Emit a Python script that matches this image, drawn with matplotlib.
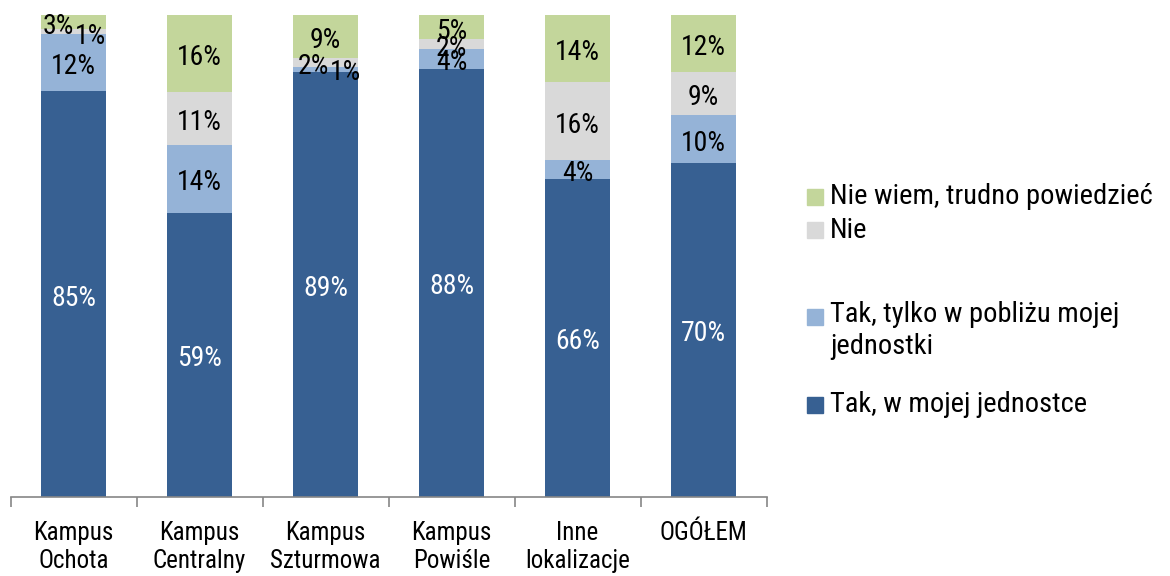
import matplotlib
matplotlib.use("Agg")
import matplotlib.pyplot as plt
from matplotlib.patches import Rectangle
import numpy as np

categories = ["Kampus\nOchota", "Kampus\nCentralny", "Kampus\nSzturmowa", "Kampus\nPowiśle", "Inne\nlokalizacje", "OGÓŁEM"]
series_names = ["Tak, w mojej jednostce", "Tak, tylko w pobliżu mojej\njednostki", "Nie", "Nie wiem, trudno powiedzieć"]
tak_moja = [85, 59, 89, 88, 66, 70]
tak_poblizu = [12, 14, 1, 4, 4, 10]
nie = [1, 11, 2, 2, 16, 9]
nie_wiem = [3, 16, 9, 5, 14, 12]

colors = ["#376092", "#95B3D7", "#D9D9D9", "#C3D69B"]
label_colors = ["white", "black", "black", "black"]

# manual label offsets (in pixels) for overlapping labels: (series, category) -> (dx, dy)
offsets = {
    (3, 0): (-15, 0), (2, 0): (17, -1),
    (2, 2): (-12, 0), (1, 2): (20, 1),
}
GLOBAL_DY = -4

plt.rcParams['font.family'] = ['Roboto Condensed', 'Liberation Sans', 'DejaVu Sans']

fig = plt.figure(figsize=(11.7, 5.76), dpi=100)
ax = fig.add_axes([10.5 / 1170, 1 - 497 / 576, 756 / 1170, 482 / 576])

data = np.array([tak_moja, tak_poblizu, nie, nie_wiem], dtype=float)
totals = data.sum(axis=0)
pct = data / totals * 100
x = np.arange(len(categories))
bottom = np.zeros(len(categories))
for i in range(4):
    ax.bar(x, pct[i], bottom=bottom, width=0.52, color=colors[i], edgecolor='none')
    for j in range(len(categories)):
        dx, dy = offsets.get((i, j), (0, 0))
        dy += GLOBAL_DY
        ax.annotate(f"{int(data[i, j])}%", (x[j], bottom[j] + pct[i, j] / 2),
                    xytext=(dx * 0.72, dy * 0.72), textcoords='offset points',
                    ha='center', va='center', fontsize=20, color=label_colors[i])
    bottom += pct[i]

ax.set_xlim(-0.5, len(categories) - 0.5)
ax.set_ylim(0, 100)
for s in ['top', 'right', 'left']:
    ax.spines[s].set_visible(False)
ax.spines['bottom'].set_color('#868686')
ax.spines['bottom'].set_linewidth(1.2)
ax.set_yticks([])
ax.set_xticks(x)
ax.set_xticklabels(categories, fontsize=18, linespacing=1.25)
ax.tick_params(axis='x', which='major', length=0, pad=17)
ax.set_xticks(np.arange(-0.5, len(categories)), minor=True)
ax.tick_params(axis='x', which='minor', length=7, color='#868686', width=1.2)

# legend (manual layout)
leg_items = [(3, 197), (2, 230), (1, 317), (0, 405)]
for idx, ypix in leg_items:
    fig.patches.append(Rectangle((807 / 1170, 1 - (ypix + 8) / 576), 16 / 1170, 16 / 576,
                                 transform=fig.transFigure, color=colors[idx]))
    name = series_names[idx]
    if '\n' in name:
        fig.text(830 / 1170, 1 - (ypix - 16) / 576, name, ha='left', va='top',
                 fontsize=20.5, linespacing=1.25)
    else:
        fig.text(830 / 1170, 1 - ypix / 576, name, ha='left', va='center', fontsize=20.5)

fig.savefig("out.png", dpi=100)
